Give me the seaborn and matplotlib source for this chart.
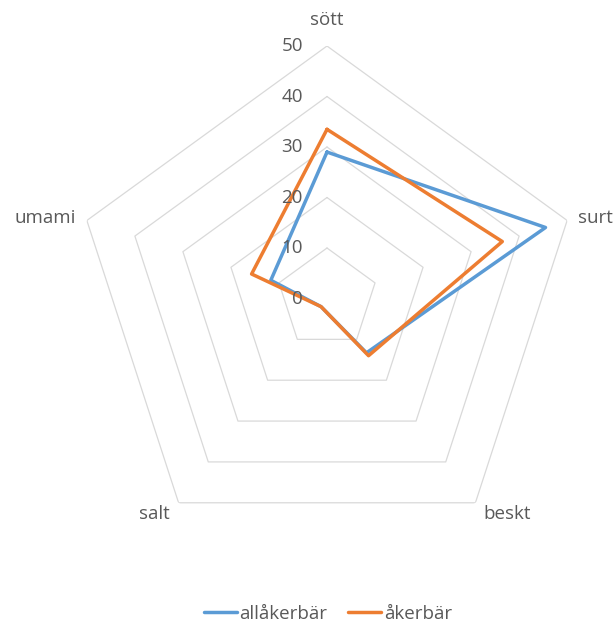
import numpy as np
import pandas as pd
import matplotlib
matplotlib.use("Agg")
import matplotlib.pyplot as plt
import matplotlib.transforms as mtrans
import seaborn as sns

categories = ["sött", "surt", "beskt", "salt", "umami"]
allakerbar = [29, 45.5, 13.3, 2, 11.7]
akerbar = [33.5, 36.5, 14, 2, 15.7]
series_names = ["allåkerbär", "åkerbär"]
tick_values = [0, 10, 20, 30, 40, 50]

sns.set_theme(style="white")
plt.rcParams['font.family'] = ['Open Sans', 'DejaVu Sans']
TXT = "#595959"
colors = ["#5B9BD5", "#ED7D31"]
FS = 13.5

fig = plt.figure(figsize=(6.13, 6.23), dpi=100)
cx, cy, R = 327 / 613, 1 - 298.5 / 623, 252.5
ax = fig.add_axes([cx - R / 613, cy - R / 623, 2 * R / 613, 2 * R / 623], projection="polar")
ax.set_theta_zero_location("N")
ax.set_theta_direction(-1)
ax.grid(False)
ax.spines["polar"].set_visible(False)
ax.set_facecolor("none")

n = len(categories)
angles = np.arange(n) * 2 * np.pi / n
closed = np.append(angles, 2 * np.pi)

for v in tick_values[1:]:
    ax.plot(closed, [v] * (n + 1), color="#d9d9d9", lw=0.9, zorder=1)

rows = []
for name, vals in zip(series_names, [allakerbar, akerbar]):
    vv = list(vals) + [vals[0]]
    for i, (a, r) in enumerate(zip(closed, vv)):
        rows.append({"serie": name, "theta": a, "r": r, "order": i})
df = pd.DataFrame(rows)
for name, col in zip(series_names, colors):
    sub = df[df.serie == name]
    sns.lineplot(data=sub, x="theta", y="r", sort=False, estimator=None, color=col, lw=2.5,
                 ax=ax, label=name, zorder=3)
ax.set_xlabel("")
ax.set_ylabel("")
ax.set_ylim(0, 50)
ax.set_xticks([])
ax.set_yticks([])

off = mtrans.offset_copy(ax.transData, fig=fig, x=-24, y=0, units="dots")
for v in tick_values:
    ax.text(0, v, str(v), transform=off, ha="right", va="center", fontsize=FS, color=TXT)

label_off = [(0, 26, "center"), (11, 2.5, "left"), (32, -11, "center"),
             (-24, -11, "center"), (-11, 2.5, "right")]
for a, lab, (dx, dy, ha) in zip(angles, categories, label_off):
    tr = mtrans.offset_copy(ax.transData, fig=fig, x=dx, y=dy, units="dots")
    ax.text(a, 50, lab, transform=tr, ha=ha, va="center", fontsize=FS, color=TXT, clip_on=False)

ax.legend_.remove()
h, l = ax.get_legend_handles_labels()
fig.legend(h, l, loc="center", bbox_to_anchor=(328 / 613, 1 - 614 / 623), ncol=2, frameon=False,
           fontsize=FS, labelcolor=TXT, handlelength=1.75, columnspacing=1.1, handletextpad=0.15)

fig.savefig("out.png", dpi=100)
